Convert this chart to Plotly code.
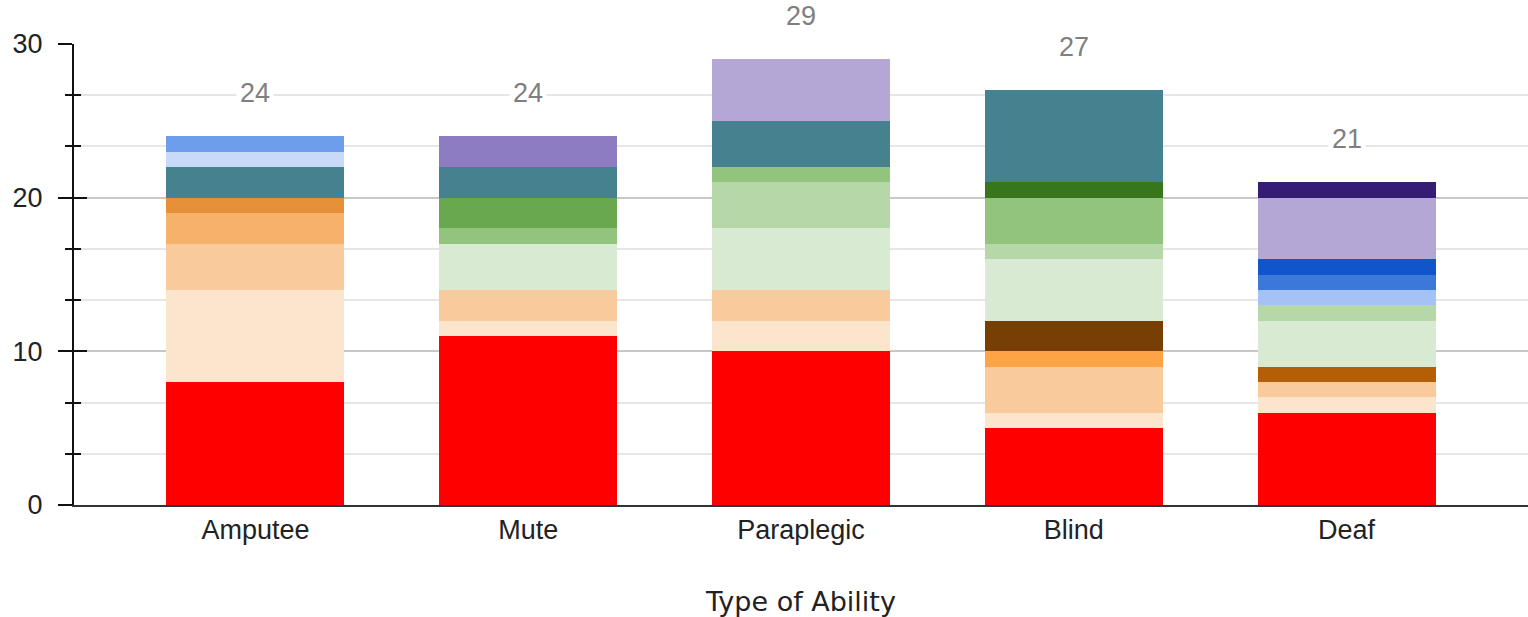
import plotly.graph_objects as go

categories = ["Amputee", "Mute", "Paraplegic", "Blind", "Deaf"]

# segment values per category, bottom to top of stack
red_vals            = [8, 11, 10, 5, 6]
light_peach_vals    = [6, 1, 2, 1, 1]
peach_vals          = [3, 2, 2, 3, 1]
light_orange_vals   = [2, 0, 0, 0, 0]
orange_vals         = [1, 0, 0, 0, 0]
bright_orange_vals  = [0, 0, 0, 1, 0]
brown_vals          = [0, 0, 0, 2, 0]
dark_orange_vals    = [0, 0, 0, 0, 1]
pale_green_vals     = [0, 3, 4, 4, 3]
light_green_vals    = [0, 0, 3, 1, 1]
green_vals          = [0, 1, 1, 3, 0]
dark_green_vals     = [0, 2, 0, 0, 0]
deep_green_vals     = [0, 0, 0, 1, 0]
sky_blue_vals       = [0, 0, 0, 0, 1]
mid_blue_vals       = [0, 0, 0, 0, 1]
royal_blue_vals     = [0, 0, 0, 0, 1]
teal_vals           = [2, 2, 3, 6, 0]
pale_blue_vals      = [1, 0, 0, 0, 0]
cornflower_vals     = [1, 0, 0, 0, 0]
purple_vals         = [0, 2, 0, 0, 0]
lavender_vals       = [0, 0, 4, 0, 4]
dark_purple_vals    = [0, 0, 0, 0, 1]

series = [
    red_vals, light_peach_vals, peach_vals, light_orange_vals, orange_vals,
    bright_orange_vals, brown_vals, dark_orange_vals, pale_green_vals,
    light_green_vals, green_vals, dark_green_vals, deep_green_vals,
    sky_blue_vals, mid_blue_vals, royal_blue_vals, teal_vals, pale_blue_vals,
    cornflower_vals, purple_vals, lavender_vals, dark_purple_vals,
]
colors = [
    "#ff0000", "#fce5cd", "#f9cb9c", "#f6b26b", "#e69138",
    "#ffa347", "#783f04", "#b45f06", "#d9ead3",
    "#b6d7a8", "#93c47d", "#6aa84f", "#38761d",
    "#a4c2f4", "#3c78d8", "#1155cc", "#45818e", "#c9daf8",
    "#6d9eeb", "#8e7cc3", "#b4a7d6", "#351c75",
]

totals = [sum(s[i] for s in series) for i in range(len(categories))]

fig = go.Figure()
for idx, (vals, col) in enumerate(zip(series, colors)):
    fig.add_trace(go.Bar(
        x=categories,
        y=vals,
        marker=dict(color=col, line=dict(width=0),
                    cornerradius=5 if idx == len(series) - 1 else 0),
        showlegend=False,
        hoverinfo="x+y",
    ))

# invisible helper trace to activate the overlay axis (inward ticks)
fig.add_trace(go.Scatter(x=categories, y=totals, yaxis="y2", mode="markers",
                         marker=dict(opacity=0), showlegend=False, hoverinfo="skip"))

for c, t in zip(categories, totals):
    fig.add_annotation(x=c, y=t, text=str(t), showarrow=False, yshift=43,
                       yanchor="middle", bgcolor="white", borderpad=3,
                       font=dict(family="Liberation Sans, Arial", size=27, color="#7f7f7f"))

fig.update_layout(
    width=1528, height=617,
    margin=dict(l=74, r=0, t=44, b=112, autoexpand=False),
    barmode="stack",
    bargap=0.348,
    plot_bgcolor="white",
    paper_bgcolor="white",
    font=dict(family="Liberation Sans, Arial", size=27, color="#222222"),
    xaxis=dict(
        range=[-0.665, 4.665],
        showline=True, linecolor="#333333", linewidth=2,
        ticks="", showgrid=False, automargin=False,
        tickfont=dict(size=27, color="#222222"),
        title=dict(text="Type of Ability", standoff=48,
                   font=dict(family="DejaVu Sans", size=27, color="#222222")),
    ),
    yaxis=dict(
        range=[0, 30], dtick=10, tick0=0, automargin=False,
        showline=True, linecolor="#111111", linewidth=2,
        ticks="outside", ticklen=14, tickwidth=2, tickcolor="#111111",
        ticklabelstandoff=10,
        showgrid=True, gridcolor="#c8c8c8", gridwidth=1.5,
        zeroline=False,
        tickfont=dict(size=27, color="#222222"),
        minor=dict(dtick=10/3, tick0=0, ticks="outside", ticklen=7, tickwidth=2,
                   tickcolor="#111111", showgrid=True, gridcolor="#e6e6e6", gridwidth=1.5),
    ),
    yaxis2=dict(
        range=[0, 30], dtick=10, tick0=0, overlaying="y", side="left", anchor="x",
        ticks="inside", ticklen=13, tickwidth=2, tickcolor="#111111",
        showticklabels=False, showgrid=False, showline=False, zeroline=False,
        minor=dict(dtick=10/3, tick0=0, ticks="inside", ticklen=7, tickwidth=2,
                   tickcolor="#111111", showgrid=False),
    ),
)

fig.write_html("out.html", config={"displayModeBar": False},
               post_script="document.body.style.margin='0';")
